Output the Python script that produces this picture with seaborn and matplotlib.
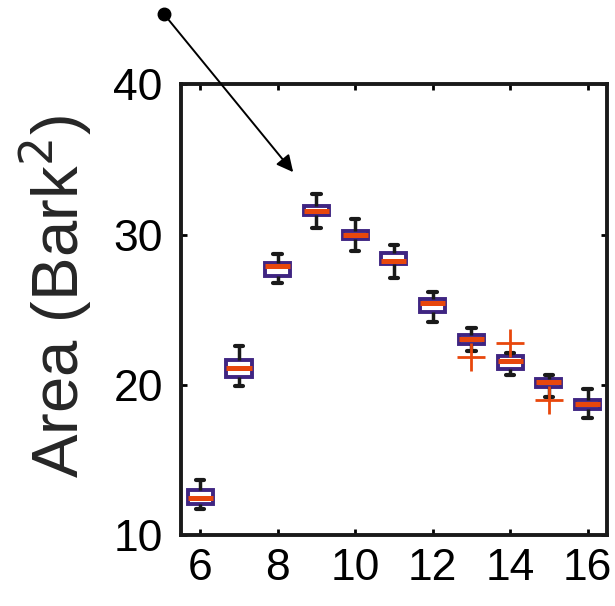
import numpy as np
import pandas as pd
import matplotlib
matplotlib.use("Agg")
import matplotlib.pyplot as plt
import seaborn as sns

# box summary values (x = position on the axis)
positions = [6, 7, 8, 9, 10, 11, 12, 13, 14, 15, 16]
whisker_low = [11.76, 19.89, 26.78, 30.41, 28.92, 27.09, 24.21, 22.28, 20.62, 19.18, 17.79]
q1 = [12.09, 20.55, 27.26, 31.30, 29.70, 28.04, 24.83, 22.72, 21.06, 19.85, 18.41]
median = [12.46, 21.13, 27.89, 31.54, 29.99, 28.26, 25.43, 23.06, 21.60, 20.18, 18.72]
q3 = [13.02, 21.68, 28.11, 31.92, 30.21, 28.77, 25.71, 23.32, 21.91, 20.40, 19.02]
whisker_high = [13.69, 22.57, 28.68, 32.67, 31.03, 29.30, 26.16, 23.77, 22.10, 20.66, 19.69]

# outliers ("+" marks)
outlier_x = [13, 14, 15]
outlier_y = [21.84, 22.79, 19.00]

xticks = [6, 8, 10, 12, 14, 16]
yticks = [10, 20, 30, 40]

# annotation arrow (dot -> tip), in data units
dot_xy = (5.07, 44.65)
tip_xy = (8.40, 34.15)

purple = "#3f2582"
orange = "#e8470c"
black = "#1a1a1a"

rows = []
for i, p in enumerate(positions):
    for v in (whisker_low[i], q1[i], median[i], q3[i], whisker_high[i]):
        rows.append({"n": p, "area": v})
df = pd.DataFrame(rows)
out_df = pd.DataFrame({"n": outlier_x, "area": outlier_y})

sns.set_style("ticks")
plt.rcParams["font.family"] = ["Liberation Sans", "DejaVu Sans"]

fig = plt.figure(figsize=(6.15, 6.06), dpi=100)
ax = fig.add_axes([0.294, 0.117, 0.693, 0.744])

sns.boxplot(data=df, x="n", y="area", native_scale=True, width=0.65,
            whis=(0, 100), fliersize=0, ax=ax,
            boxprops=dict(facecolor="white", edgecolor=purple, linewidth=2.8),
            whiskerprops=dict(color=black, linewidth=2.5),
            capprops=dict(color=black, linewidth=3.0),
            medianprops=dict(color=orange, linewidth=3.6),
            capwidths=0.22)

sns.scatterplot(data=out_df, x="n", y="area", marker="+", s=380,
                color=orange, linewidth=2.0, ax=ax, zorder=5)

ax.plot(*dot_xy, "o", color="black", markersize=9, clip_on=False)
ax.annotate("", xy=tip_xy, xytext=dot_xy, annotation_clip=False,
            arrowprops=dict(arrowstyle="-|>", color="black", lw=1.4,
                            mutation_scale=25, shrinkA=0, shrinkB=0))

ax.set_xlim(5.5, 16.5)
ax.set_ylim(10, 40)
ax.set_xticks(xticks)
ax.set_yticks(yticks)
ax.tick_params(direction="in", length=4, width=2, labelsize=32,
               top=True, right=True, colors="black")
ax.tick_params(axis="y", pad=13)
ax.tick_params(axis="x", pad=9)
for s in ax.spines.values():
    s.set_linewidth(2.8)
    s.set_color(black)
    s.set_visible(True)
ax.set_xlabel("")
ax.set_ylabel("Area (Bark$^2$)", fontsize=47, labelpad=14)
ax.yaxis.label.set_y(0.53)

fig.savefig("out.png", dpi=100)
